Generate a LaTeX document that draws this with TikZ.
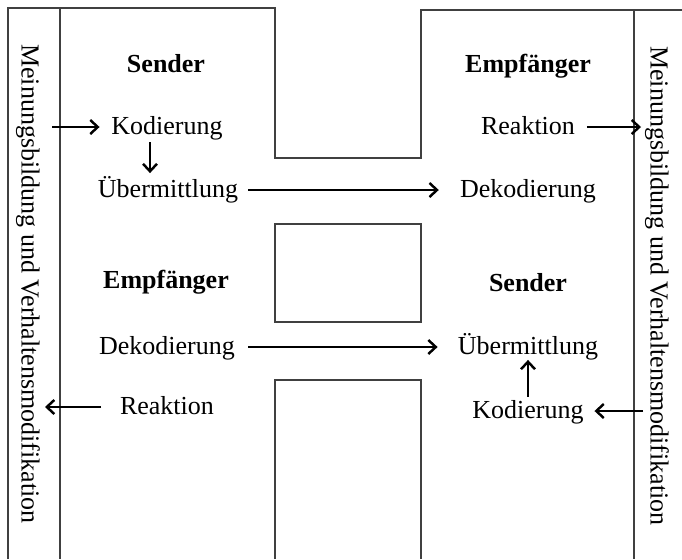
\documentclass[tikz,border=0pt]{standalone}
\usepackage{fontspec}
\setmainfont{Liberation Serif}
\usetikzlibrary{arrows.meta}

\tikzset{
	rahmen/.style={line width=0.6pt, draw=black!75},
	wort/.style={inner sep=0pt, text height=11.4pt, text depth=2.9pt, font=\fontsize{14.8}{17}\selectfont},
	titel/.style={wort, font=\fontsize{14.8}{17}\selectfont\bfseries},
	seite/.style={inner sep=0pt, rotate=-90, font=\fontsize{14.8}{17}\selectfont},
	pfeil/.style={line width=1.4pt, -{Straight Barb[length=0.15cm,width=0.28cm]}},
}

\begin{document}
\begin{tikzpicture}[x=0.02cm, y=-0.02cm]
	\useasboundingbox (0,0) rectangle (682,559);
	
	% Rahmen
	\draw [rahmen] (8,559) -- (8,8) -- (275,8) -- (275,158) -- (421,158) -- (421,10) -- (682,10);
	\draw [rahmen] (60,8) -- (60,559);% linker Streifen
	\draw [rahmen] (634,10) -- (634,559);% rechter Streifen
	\draw [rahmen] (275,224) rectangle (421,322);
	\draw [rahmen] (275,559) -- (275,380) -- (421,380) -- (421,559);
	
	\node [seite] (meinung1) at (28,284) {Meinungsbildung und Verhaltensmodifikation};
	\node [seite] (meinung2) at (657,286) {Meinungsbildung und Verhaltensmodifikation};
	
	% oben
	\node [titel] (sender1) at (166,65) {Sender};
	\node [wort] (kod1) at (167,127) {Kodierung};
	\node [wort] (ueb1) at (168,190) {Übermittlung};
	\node [titel] (empf1) at (528,65) {Empfänger};
	\node [wort] (reak1) at (528,127) {Reaktion};
	\node [wort] (dek1) at (528,190) {Dekodierung};
	
	% unten
	\node [titel] (empf2) at (166,281) {Empfänger};
	\node [wort] (dek2) at (167,347) {Dekodierung};
	\node [wort] (reak2) at (167,407) {Reaktion};
	\node [titel] (sender2) at (528,284) {Sender};
	\node [wort] (ueb2) at (528,347) {Übermittlung};
	\node [wort] (kod2) at (528,411) {Kodierung};
	
	\coordinate (ein1) at (52,127);
	\coordinate (aus1) at (641,127);
	\coordinate (aus2) at (45,407);
	\coordinate (ein2) at (643,411);
	
	\draw [pfeil, shorten >=0.23cm] (ein1) -- (kod1.west);
	\draw [pfeil] ([xshift=-0.34cm, yshift=-0.05cm]kod1.south) -- ([xshift=-0.36cm, yshift=0.08cm]ueb1.north);
	\draw [pfeil, shorten <=0.2cm, shorten >=0.42cm] (ueb1.east) -- (dek1.west);
	\draw [pfeil, shorten <=0.23cm] (reak1.east) -- (aus1);
	
	\draw [pfeil, shorten <=0.26cm, shorten >=0.4cm] (dek2.east) -- (ueb2.west);
	\draw [pfeil, shorten <=0.37cm] (reak2.west) -- (aus2);
	\draw [pfeil] ([yshift=0.03cm]kod2.north) -- (ueb2.south);
	\draw [pfeil, shorten >=0.21cm] (ein2) -- (kod2.east);
	
\end{tikzpicture}
\end{document}
